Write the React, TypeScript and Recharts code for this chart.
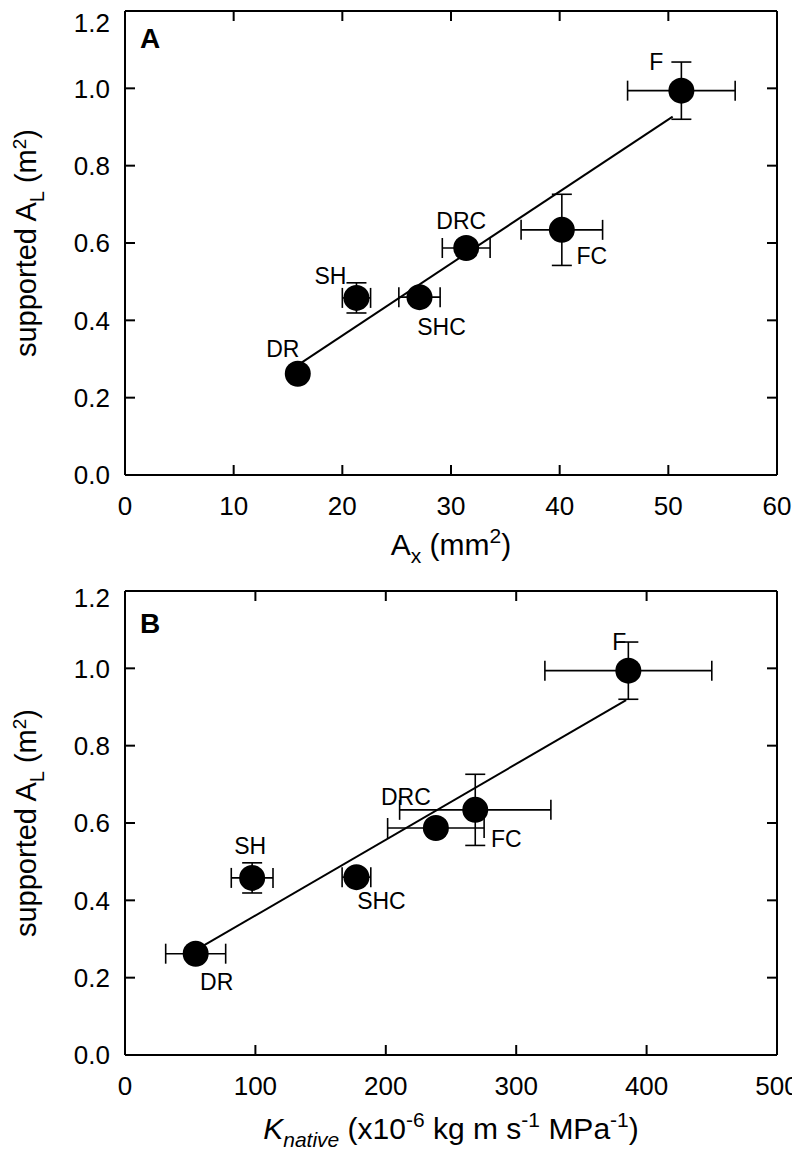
import { ScatterChart, Scatter, XAxis, YAxis, ErrorBar, ReferenceLine } from "recharts";

const FONT = "'Liberation Sans', Arial, Helvetica, sans-serif";

const GROUPS = ["DR", "SH", "SHC", "DRC", "FC", "F"];

// supported leaf area (m2), shared by both panels
const AL_MEAN = [0.262, 0.458, 0.46, 0.587, 0.634, 0.994];
const AL_ERR = [0.01, 0.039, 0.01, 0.02, 0.092, 0.074];

// panel A: xylem area (mm2)
const AX_MEAN = [15.9, 21.3, 27.1, 31.4, 40.2, 51.2];
const AX_ERR = [0.5, 1.3, 1.9, 2.2, 3.75, 4.95];

// panel B: native conductivity
const KN_MEAN = [54.2, 97.5, 177.5, 238.4, 268.6, 386];
const KN_ERR = [23, 16, 11, 37, 58, 64];

const Y_TICKS = [0, 0.2, 0.4, 0.6, 0.8, 1.0, 1.2];
const AX_TICKS = [0, 10, 20, 30, 40, 50, 60];
const KN_TICKS = [0, 100, 200, 300, 400, 500];

const FIT_A = [
  { x: 15.9, y: 0.284 },
  { x: 50.4, y: 0.927 },
];
const FIT_B = [
  { x: 54.2, y: 0.271 },
  { x: 384.3, y: 0.918 },
];

// label placement around each marker (px)
const OFFSETS_A: Record<string, [number, number]> = {
  DR: [-15, -25],
  SH: [-26, -22],
  SHC: [22, 30],
  DRC: [-5, -27],
  FC: [30, 26],
  F: [-25, -29],
};
const OFFSETS_B: Record<string, [number, number]> = {
  DR: [21, 28],
  SH: [-2, -32],
  SHC: [25, 24],
  DRC: [-30, -31],
  FC: [31, 29],
  F: [-9, -29],
};

const dataA = GROUPS.map((name, i) => ({
  name,
  x: AX_MEAN[i],
  y: AL_MEAN[i],
  xErr: AX_ERR[i],
  yErr: AL_ERR[i],
}));
const dataB = GROUPS.map((name, i) => ({
  name,
  x: KN_MEAN[i],
  y: AL_MEAN[i],
  xErr: KN_ERR[i],
  yErr: AL_ERR[i],
}));

const axisStroke = { stroke: "#000", strokeWidth: 2 };

const makeDot = (offsets: Record<string, [number, number]>) => (p: any) => {
  const name = p.payload?.name;
  const [dx, dy] = offsets[name] ?? [0, 0];
  return (
    <g>
      <circle cx={p.cx} cy={p.cy} r={13} fill="#000" />
      <text
        x={p.cx + dx}
        y={p.cy + dy}
        textAnchor="middle"
        dominantBaseline="central"
        fontSize={23}
        fontFamily={FONT}
        fill="#000"
      >
        {name}
      </text>
    </g>
  );
};

const noShape = () => <g />;
const noTick = () => <g />;

function XTitleA(props: any) {
  const vb = props.viewBox;
  return (
    <text x={vb.x + vb.width / 2} y={vb.y + 80} textAnchor="middle" fontSize={30} fontFamily={FONT} fill="#000">
      A<tspan dy={8} fontSize={21}>x</tspan>
      <tspan dy={-8}> (mm</tspan>
      <tspan dy={-12} fontSize={21}>2</tspan>
      <tspan dy={12}>)</tspan>
    </text>
  );
}

function XTitleB(props: any) {
  const vb = props.viewBox;
  return (
    <text x={vb.x + vb.width / 2} y={vb.y + 84} textAnchor="middle" fontSize={30} fontFamily={FONT} fill="#000">
      <tspan fontStyle="italic">K</tspan>
      <tspan dy={8} fontSize={21} fontStyle="italic">native</tspan>
      <tspan dy={-8}> (x10</tspan>
      <tspan dy={-12} fontSize={21}>-6</tspan>
      <tspan dy={12}> kg m s</tspan>
      <tspan dy={-12} fontSize={21}>-1</tspan>
      <tspan dy={12}> MPa</tspan>
      <tspan dy={-12} fontSize={21}>-1</tspan>
      <tspan dy={12}>)</tspan>
    </text>
  );
}

const makeYTitle = (letter: string, letterDy: number) => (props: any) => {
  const vb = props.viewBox;
  const cx = 28;
  const cy = vb.y + vb.height / 2;
  return (
    <g>
      <text
        x={cx}
        y={cy}
        transform={`rotate(-90, ${cx}, ${cy})`}
        textAnchor="middle"
        fontSize={29}
        fontFamily={FONT}
        fill="#000"
      >
        supported A<tspan dy={8} fontSize={20}>L</tspan>
        <tspan dy={-8}> (m</tspan>
        <tspan dy={-10} fontSize={19}>2</tspan>
        <tspan dy={10}>)</tspan>
      </text>
      <text
        x={vb.x + vb.width + 25}
        y={vb.y + letterDy}
        textAnchor="middle"
        dominantBaseline="central"
        fontSize={28}
        fontWeight="bold"
        fontFamily={FONT}
        fill="#000"
      >
        {letter}
      </text>
    </g>
  );
};

function Panel({
  data,
  xDomain,
  xTicks,
  fit,
  offsets,
  xTitle,
  letter,
  letterDy,
  height,
  top,
  bottom,
}: any) {
  return (
    <ScatterChart
      width={792}
      height={height}
      margin={{ top, right: 22, bottom, left: 0 }}
      style={{ fontFamily: FONT }}
    >
      <XAxis
        xAxisId={0}
        type="number"
        dataKey="x"
        domain={xDomain}
        ticks={xTicks}
        allowDataOverflow
        height={60}
        tickSize={-10}
        tickMargin={32}
        axisLine={axisStroke}
        tickLine={axisStroke}
        tick={{ fill: "#000", fontSize: 26, fontFamily: FONT }}
        label={{ content: xTitle }}
      />
      <XAxis
        xAxisId="top"
        orientation="top"
        type="number"
        dataKey="x"
        domain={xDomain}
        ticks={xTicks}
        allowDataOverflow
        height={1}
        tickSize={-10}
        axisLine={axisStroke}
        tickLine={axisStroke}
        tick={noTick}
      />
      <YAxis
        yAxisId={0}
        type="number"
        dataKey="y"
        domain={[0, 1.2]}
        ticks={Y_TICKS}
        allowDataOverflow
        width={117}
        tickSize={-10}
        tickMargin={25}
        tickFormatter={(v: number) => v.toFixed(1)}
        axisLine={axisStroke}
        tickLine={axisStroke}
        tick={{ fill: "#000", fontSize: 26, fontFamily: FONT }}
        label={{ content: makeYTitle(letter, letterDy) }}
      />
      <YAxis
        yAxisId="right"
        orientation="right"
        type="number"
        dataKey="y"
        domain={[0, 1.2]}
        ticks={Y_TICKS}
        allowDataOverflow
        width={1}
        tickSize={-10}
        axisLine={axisStroke}
        tickLine={axisStroke}
        tick={noTick}
      />
      <ReferenceLine
        segment={fit}
        stroke="#000"
        strokeWidth={2}
        ifOverflow="visible"
      />
      <Scatter
        data={data}
        xAxisId="top"
        yAxisId="right"
        isAnimationActive={false}
        shape={noShape}
      />
      <Scatter data={data} isAnimationActive={false} shape={makeDot(offsets)}>
        <ErrorBar dataKey="xErr" direction="x" width={10} stroke="#000" strokeWidth={1.6} />
        <ErrorBar dataKey="yErr" direction="y" width={10} stroke="#000" strokeWidth={1.6} />
      </Scatter>
    </ScatterChart>
  );
}

export default function App() {
  return (
    <div style={{ width: 792, fontFamily: FONT }}>
      <Panel
        data={dataA}
        xDomain={[0, 60]}
        xTicks={AX_TICKS}
        fit={FIT_A}
        offsets={OFFSETS_A}
        xTitle={XTitleA}
        letter="A"
        letterDy={27}
        height={575}
        top={2}
        bottom={48}
      />
      <Panel
        data={dataB}
        xDomain={[0, 500]}
        xTicks={KN_TICKS}
        fit={FIT_B}
        offsets={OFFSETS_B}
        xTitle={XTitleB}
        letter="B"
        letterDy={32}
        height={570}
        top={7}
        bottom={38}
      />
    </div>
  );
}
